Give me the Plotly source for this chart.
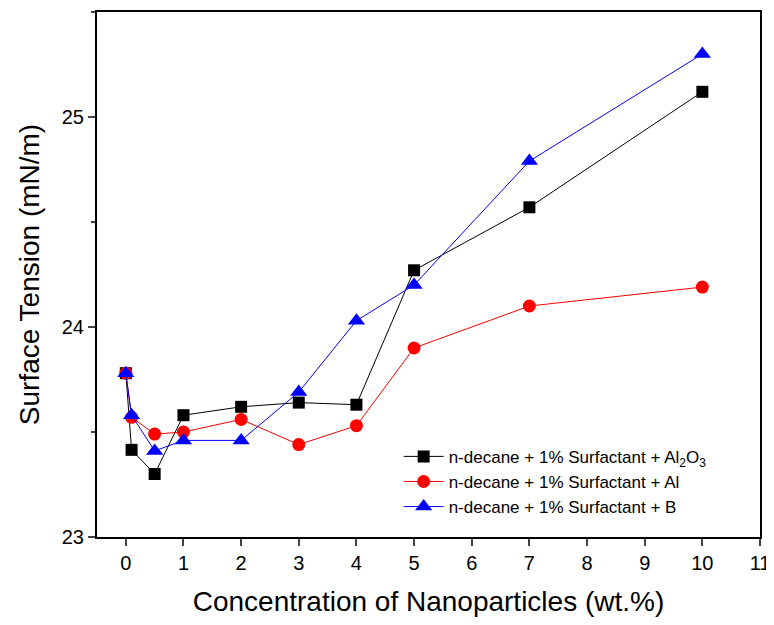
import plotly.graph_objects as go

x_vals = [0, 0.1, 0.5, 1, 2, 3, 4, 5, 7, 10]
al2o3 = [23.78, 23.415, 23.30, 23.58, 23.62, 23.64, 23.63, 24.27, 24.57, 25.12]
al = [23.78, 23.57, 23.49, 23.50, 23.56, 23.44, 23.53, 23.90, 24.10, 24.19]
boron = [23.78, 23.58, 23.41, 23.46, 23.46, 23.69, 24.03, 24.20, 24.79, 25.30]

names = ["n-decane + 1% Surfactant + Al<sub>2</sub>O<sub>3</sub>",
         "n-decane + 1% Surfactant + Al",
         "n-decane + 1% Surfactant + B"]
x_ticks = list(range(0, 12))
y_ticks = [23, 24, 25]

font_family = "Arial, Liberation Sans, sans-serif"

fig = go.Figure()
fig.add_trace(go.Scatter(x=x_vals, y=al2o3, mode="lines+markers", name=names[0],
                         line=dict(color="black", width=1),
                         marker=dict(symbol="square", size=12, color="black")))
fig.add_trace(go.Scatter(x=x_vals, y=al, mode="lines+markers", name=names[1],
                         line=dict(color="red", width=1),
                         marker=dict(symbol="circle", size=13, color="red")))
fig.add_trace(go.Scatter(x=x_vals, y=boron, mode="lines+markers", name=names[2],
                         line=dict(color="blue", width=1),
                         marker=dict(symbol="triangle-up", size=15, color="blue")))

# page body has an 8px margin, so the figure is offset by (8, 8) in the screenshot
fig.update_layout(
    width=764, height=609,
    margin=dict(l=89, r=12, t=2, b=80),
    paper_bgcolor="white", plot_bgcolor="white",
    font=dict(family=font_family, color="black"),
    showlegend=True,
    legend=dict(x=0.455, y=0.187, xanchor="left", yanchor="top",
                bgcolor="rgba(0,0,0,0)", font=dict(size=17, family=font_family),
                tracegroupgap=0, itemwidth=40),
    xaxis=dict(range=[-0.5, 11], tickvals=x_ticks, ticks="outside", ticklen=7,
               tickwidth=1.5, showline=True, linecolor="black", linewidth=2,
               mirror=True, showgrid=False, zeroline=False, ticklabeloverflow="allow",
               tickfont=dict(size=20), title=dict(text="Concentration of Nanoparticles (wt.%)",
                                                  font=dict(size=28), standoff=18)),
    yaxis=dict(range=[23, 25.5], tickvals=y_ticks, ticks="outside", ticklen=7,
               tickwidth=1.5, showline=True, linecolor="black", linewidth=2,
               mirror=True, showgrid=False, zeroline=False,
               minor=dict(tickvals=[23.5, 24.5, 25.5], ticks="outside", ticklen=4, tickwidth=1.5),
               tickfont=dict(size=20), title=dict(text="Surface Tension (mN/m)",
                                                  font=dict(size=28), standoff=14)),
)

fig.write_html("out.html", config={"displayModeBar": False})
